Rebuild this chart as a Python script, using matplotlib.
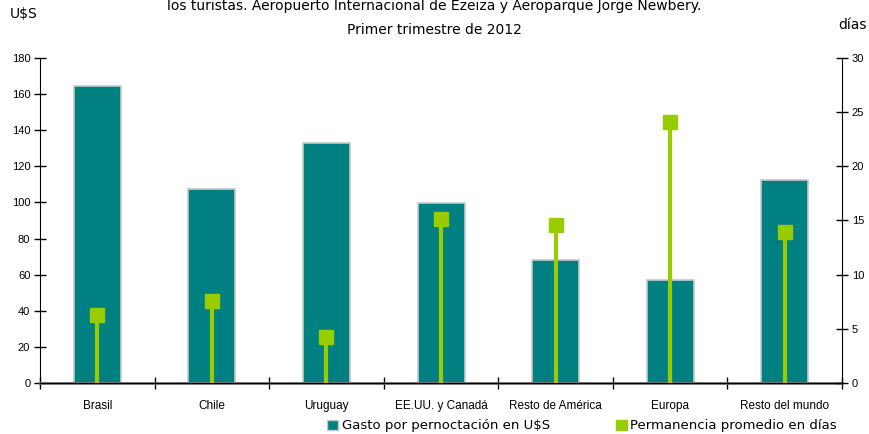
import matplotlib.pyplot as plt
import numpy as np
from matplotlib.patches import Patch

# data
categorias = ['Brasil', 'Chile', 'Uruguay', 'EE.UU. y Canadá', 'Resto de América',
              'Europa', 'Resto del mundo']
gasto_usd = [164.5, 107.4, 132.9, 99.7, 68.1, 57.0, 112.4]
permanencia_dias = [6.3, 7.6, 4.2, 15.1, 14.6, 24.1, 13.9]

teal = '#008080'
verde = '#99cc00'
narrow = ['Liberation Sans Narrow', 'DejaVu Sans']

plt.rcParams['font.family'] = ['Liberation Sans', 'DejaVu Sans']

fig = plt.figure(figsize=(8.69, 4.34), dpi=100)
ax = fig.add_axes([0.046, 0.1175, 0.923, 0.749])
ax2 = ax.twinx()

x = np.arange(len(categorias))
ax.bar(x, gasto_usd, width=0.41, color=teal, edgecolor='#c8c8c8', linewidth=1.2, zorder=2)

ax.set_xlim(-0.5, len(categorias) - 0.5)
ax.set_ylim(0, 180)
ax.set_yticks(range(0, 181, 20))
ax2.set_ylim(0, 30)
ax2.set_yticks(range(0, 31, 5))

# stems + square markers for days
ax2.vlines(x, 0, permanencia_dias, color=verde, linewidth=3, zorder=3)
ax2.plot(x, permanencia_dias, linestyle='none', marker='s', markersize=9.5,
         color=verde, zorder=4)

for a in (ax, ax2):
    a.spines['top'].set_visible(False)
    a.tick_params(labelsize=8, length=8, width=1, direction='inout', pad=3)
ax.spines['right'].set_visible(False)
ax2.spines['left'].set_visible(False)
ax.spines['bottom'].set_color('#707070')
ax.spines['bottom'].set_linewidth(2)

ax.set_xticks(x)
ax.set_xticklabels(categorias, fontsize=8.5)
ax.tick_params(axis='x', length=0, pad=12)
ax.set_xticks(np.arange(-0.5, len(categorias)), minor=True)
ax.tick_params(axis='x', which='minor', length=8, direction='inout', width=1)

fig.text(0.5, 1 - 6 / 434, 'los turistas. Aeropuerto Internacional de Ezeiza y Aeroparque Jorge Newbery.',
         ha='center', va='center', fontsize=10, family=narrow)
fig.text(0.5, 1 - 30 / 434, 'Primer trimestre de 2012', ha='center', va='center', fontsize=10,
         family=narrow)
fig.text(10 / 869, 1 - 14 / 434, 'U$S', ha='left', va='center', fontsize=10, family=narrow)
fig.text(838 / 869, 1 - 25 / 434, 'días', ha='left', va='center', fontsize=10, family=narrow)

handles = [Patch(facecolor=teal, edgecolor='#c8c8c8'),
           Patch(facecolor=verde, edgecolor=verde)]
fig.legend(handles, ['Gasto por pernoctación en U$S', 'Permanencia promedio en días'],
           loc='center', bbox_to_anchor=(0.67, 1 - 426 / 434), ncol=2, frameon=False,
           prop={'family': narrow, 'size': 9.5},
           handlelength=0.8, handleheight=0.8, handletextpad=0.3, columnspacing=5)

fig.savefig('out.png', dpi=100)
